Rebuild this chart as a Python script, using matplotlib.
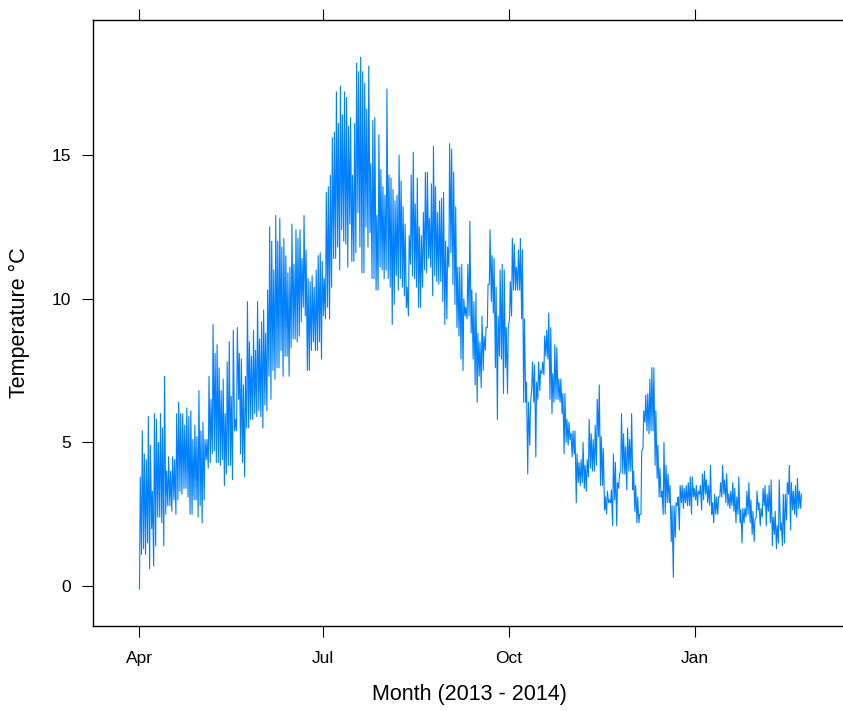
import numpy as np
import pandas as pd
import matplotlib
matplotlib.use('Agg')
import matplotlib.pyplot as plt
import matplotlib.dates as mdates

plt.rcParams['font.family'] = ['Liberation Sans', 'DejaVu Sans']

first_day = '2013-04-01'

# daily highs (deg C), one row per month
daily_max = [
    3.8, 5.4, 4.6, 4.4, 5.9, 4.9, 3.3, 6.0, 5.8, 5.0, 6.0, 5.5, 7.3, 4.0, 4.5, 4.0, 4.5, 4.4, 6.0, 6.4, 6.0, 6.0, 5.6, 6.2, 5.9, 6.1, 5.1, 5.6, 5.2, 6.8,  # Apr
    5.4, 5.7, 5.1, 5.1, 7.3, 6.5, 9.1, 8.1, 8.4, 7.6, 6.8, 7.2, 6.0, 7.8, 8.5, 6.6, 8.9, 5.8, 9.0, 8.1, 7.9, 7.0, 7.3, 9.9, 8.5, 8.0, 8.9, 8.2, 9.9, 8.6, 9.2,  # May
    9.6, 8.8, 10.3, 12.5, 12.0, 11.0, 12.9, 12.0, 12.8, 11.8, 12.1, 11.5, 10.9, 11.1, 12.6, 11.2, 12.4, 12.1, 12.4, 11.4, 12.9, 11.7, 10.7, 10.6, 10.8, 10.4, 11.0, 11.5, 11.6, 11.3,  # Jun
    10.7, 13.7, 13.9, 14.3, 15.6, 15.8, 17.2, 16.1, 17.4, 16.4, 17.2, 17.0, 16.0, 16.3, 14.3, 16.1, 18.2, 17.9, 18.4, 17.9, 17.5, 16.6, 18.1, 14.7, 16.2, 16.3, 12.9, 15.7, 14.5, 13.9, 13.6,  # Jul
    17.3, 14.3, 14.2, 13.8, 13.4, 13.6, 15.0, 14.1, 13.2, 12.6, 10.4, 12.2, 14.3, 15.1, 13.3, 14.2, 12.5, 12.2, 13.0, 14.4, 14.4, 12.8, 14.0, 15.3, 13.9, 13.0, 13.4, 13.5, 13.7, 12.0, 11.8,  # Aug
    15.4, 15.2, 14.4, 13.2, 11.1, 11.1, 11.2, 10.0, 9.7, 11.2, 12.7, 10.3, 9.9, 10.2, 8.8, 8.5, 9.4, 8.7, 9.0, 10.5, 12.4, 11.5, 11.4, 10.4, 9.4, 11.0, 11.2, 11.0, 9.0, 9.0,  # Sep
    10.6, 12.1, 11.9, 11.1, 11.7, 12.1, 11.7, 9.3, 7.1, 6.4, 6.3, 7.8, 7.7, 7.1, 7.8, 7.5, 7.8, 8.7, 8.9, 9.5, 9.0, 7.4, 8.4, 8.3, 7.2, 7.2, 6.7, 6.7, 5.8, 5.7, 5.3,  # Oct
    5.4, 5.4, 4.6, 4.3, 4.4, 5.0, 4.2, 4.4, 5.8, 5.3, 5.1, 5.6, 6.5, 7.0, 5.2, 4.8, 3.1, 3.3, 3.0, 3.35, 4.6, 4.3, 3.6, 3.9, 6.0, 5.3, 4.85, 5.5, 5.1, 6.0,  # Nov
    4.0, 3.5, 3.1, 2.5, 4.7, 6.1, 6.65, 6.7, 7.2, 7.6, 7.6, 6.1, 4.9, 4.1, 3.3, 5.0, 4.2, 3.9, 3.5, 2.8, 2.8, 2.9, 3.1, 3.5, 3.5, 3.4, 3.5, 3.6, 3.8, 3.8, 3.4,  # Dec
    3.5, 3.3, 3.5, 3.9, 4.0, 3.7, 3.5, 4.2, 2.9, 3.2, 3.1, 3.1, 3.6, 4.2, 3.7, 3.9, 3.2, 3.3, 3.6, 3.4, 3.1, 3.8, 2.65, 2.7, 2.7, 3.3, 3.6, 3.0, 2.6, 2.3, 3.3,  # Jan
    2.9, 2.7, 3.4, 3.5, 3.2, 3.5, 3.7, 2.4, 2.6, 2.1, 3.7, 2.2, 3.2, 3.2, 3.6, 4.2, 3.6, 3.3, 3.5, 3.75, 3.3, 3.2,  # Feb
]

# daily lows (deg C)
daily_min = [
    -0.1, 1.1, 1.3, 1.1, 1.5, 0.6, 2.0, 0.7, 1.4, 2.4, 2.4, 2.2, 1.4, 2.5, 2.8, 2.8, 2.6, 3.0, 2.5, 3.0, 3.3, 3.2, 3.4, 3.4, 3.1, 2.5, 2.5, 3.0, 3.0, 2.4,  # Apr
    2.8, 2.2, 3.0, 4.4, 4.1, 4.3, 4.6, 4.7, 4.3, 4.3, 4.2, 4.4, 3.5, 3.9, 4.2, 4.2, 3.7, 5.4, 5.4, 6.5, 4.6, 4.3, 3.8, 5.5, 5.5, 5.8, 5.8, 6.0, 5.9, 6.1, 5.9,  # May
    5.5, 6.3, 6.1, 7.3, 6.5, 7.5, 7.2, 7.6, 7.6, 8.2, 7.3, 8.0, 8.0, 7.3, 8.3, 8.6, 8.6, 8.5, 8.7, 9.2, 9.7, 9.4, 7.5, 7.5, 8.2, 8.5, 8.2, 8.2, 8.5, 7.9,  # Jun
    9.4, 9.3, 9.7, 9.3, 10.4, 11.4, 11.4, 11.8, 11.0, 12.4, 12.0, 11.9, 11.1, 12.6, 11.3, 11.3, 11.6, 13.0, 11.8, 10.9, 10.9, 12.5, 11.8, 12.3, 10.7, 10.7, 10.3, 10.3, 11.1, 11.0, 10.7,  # Jul
    11.0, 10.7, 10.4, 9.1, 9.8, 10.8, 10.3, 10.7, 10.4, 10.1, 9.7, 9.4, 11.2, 10.8, 10.7, 10.4, 9.7, 9.7, 10.4, 11.0, 10.9, 11.4, 11.1, 10.1, 10.8, 10.6, 10.5, 10.6, 9.9, 9.1, 9.3,  # Aug
    11.1, 11.6, 10.5, 9.8, 9.0, 8.7, 7.9, 7.5, 9.4, 9.3, 9.4, 8.8, 7.9, 7.0, 6.4, 7.3, 6.9, 7.5, 8.2, 9.0, 10.5, 9.9, 9.5, 7.6, 5.8, 8.0, 7.9, 6.7, 7.6, 6.7,  # Sep
    9.3, 9.4, 10.3, 10.3, 10.3, 10.3, 9.3, 6.4, 6.4, 3.9, 4.9, 6.9, 6.4, 4.5, 6.5, 6.8, 7.4, 7.35, 8.0, 7.9, 6.5, 6.0, 6.4, 6.5, 6.5, 6.4, 6.0, 4.6, 5.0, 4.9, 5.1,  # Oct
    4.5, 4.6, 2.9, 3.6, 3.5, 3.6, 3.4, 3.3, 3.8, 4.1, 4.0, 4.0, 4.2, 5.2, 3.5, 3.5, 2.65, 2.5, 2.9, 2.9, 2.1, 3.0, 2.1, 3.4, 4.0, 3.9, 3.9, 3.35, 4.0, 4.0,  # Nov
    3.35, 2.6, 2.2, 2.2, 2.5, 4.8, 5.7, 5.4, 5.3, 5.4, 5.4, 4.2, 3.75, 3.1, 3.1, 2.5, 2.5, 2.9, 2.9, 1.55, 0.3, 1.7, 2.8, 1.95, 2.9, 2.7, 2.9, 2.8, 2.8, 2.5, 3.1,  # Dec
    3.0, 2.8, 3.2, 2.65, 3.0, 3.2, 2.9, 2.8, 2.5, 2.2, 2.5, 2.5, 3.1, 3.1, 3.2, 2.9, 2.8, 2.7, 2.8, 2.6, 2.2, 2.5, 2.2, 1.5, 2.2, 2.4, 2.5, 2.2, 1.8, 1.55, 2.4,  # Jan
    2.65, 2.1, 2.4, 2.8, 2.1, 2.6, 2.2, 1.4, 1.8, 1.3, 1.5, 1.95, 1.4, 1.5, 2.3, 3.2, 1.95, 2.65, 2.5, 2.4, 2.7, 2.7,  # Feb
]

tick_dates = ['2013-04-01', '2013-07-01', '2013-10-01', '2014-01-01']
tick_labels = ['Apr', 'Jul', 'Oct', 'Jan']
y_ticks = [0, 5, 10, 15]

days = pd.date_range(first_day, periods=len(daily_max), freq='D')

# trace each day as early-morning low -> afternoon high
times = np.empty(2 * len(days), dtype='datetime64[ns]')
times[0::2] = (days + pd.Timedelta(hours=6)).values
times[1::2] = (days + pd.Timedelta(hours=15)).values
temps = np.empty(2 * len(days))
temps[0::2] = daily_min
temps[1::2] = daily_max

fig = plt.figure(figsize=(8.43, 7.11), dpi=100)
ax = fig.add_axes([93 / 843, 85 / 711, 753.6 / 843, 606 / 711])

ax.plot(mdates.date2num(times), temps, color='#0080ff', lw=0.8)

t0 = mdates.date2num(pd.Timestamp(first_day))
ax.set_xlim(t0 - 22.75, t0 + 349.95)
ax.set_ylim(-1.39, 19.70)

ax.set_xticks(mdates.date2num(pd.to_datetime(tick_dates)))
ax.set_xticklabels(tick_labels)
ax.set_yticks(y_ticks)

ax.tick_params(axis='both', direction='out', length=7.9, width=0.8,
               labelsize=12.5, color='black')
ax.tick_params(axis='x', top=True, labeltop=False, pad=10)
ax.tick_params(axis='y', right=False, pad=8)

for side in ['left', 'bottom', 'top']:
    ax.spines[side].set_linewidth(1.0)
ax.spines['right'].set_visible(False)

ax.set_xlabel('Month (2013 - 2014)', fontsize=15.5)
ax.set_ylabel('Temperature \u00b0C', fontsize=15.5)
ax.xaxis.set_label_coords(0.5, -0.095)
ax.yaxis.set_label_coords(-0.084, 0.5)

fig.savefig('out.png', dpi=100)
